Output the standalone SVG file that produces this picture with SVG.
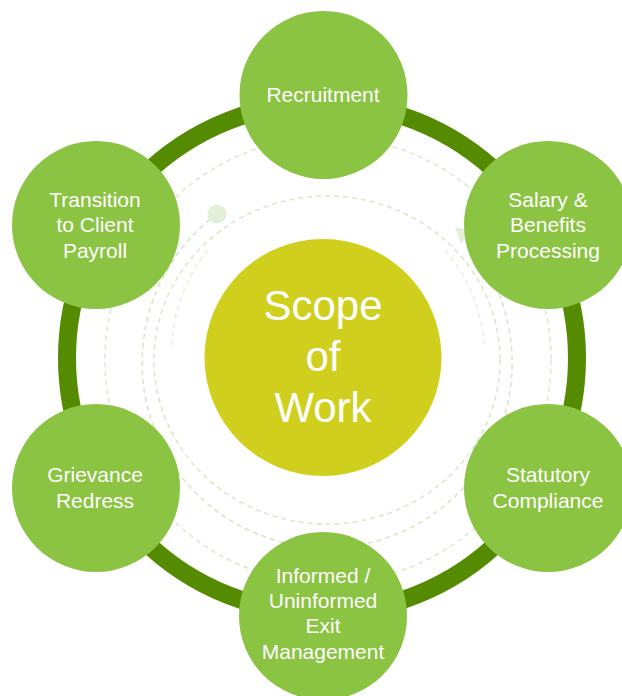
<svg xmlns="http://www.w3.org/2000/svg" width="622" height="696" viewBox="0 0 622 696">
<style>
.sat{fill:#8BC342}
.lbl{font-family:"Liberation Sans",Arial,sans-serif;font-size:21px;fill:#ffffff;text-anchor:middle}
.big{font-family:"Liberation Sans",Arial,sans-serif;font-size:42px;fill:#ffffff;text-anchor:middle}
.dash{fill:none;stroke-dasharray:5 4;stroke-width:1.6}
</style>
<rect width="622" height="696" fill="#ffffff"/>
<g id="decor">
<circle class="dash" cx="328" cy="360" r="223" stroke="#dcebcf"/>
<ellipse class="dash" cx="327" cy="360" rx="173" ry="164" stroke="#d8eac8"/>
<path class="dash" d="M217 214 A185 185 0 1 0 461 235" stroke="#d5e8c3"/>
<path class="dash" d="M208 250 A160 160 0 0 0 172 345" stroke="#e8f2df"/>
<path class="dash" d="M445 250 A160 160 0 0 1 484 345" stroke="#e8f2df"/>
<circle cx="217" cy="214" r="9.5" fill="#e3f0d7"/>
<polygon points="455,227 471,231 461,244" fill="#e3f0d7"/>
</g>
<g id="connectors">
<circle cx="322" cy="358" r="255" fill="none" stroke="#558B00" stroke-width="18"/>
</g>
<g id="center">
<circle cx="323" cy="357.5" r="118.5" fill="#D0CF1D"/>
<text class="big" x="323" y="320">Scope</text>
<text class="big" x="323" y="371">of</text>
<text class="big" x="323" y="422">Work</text>
</g>
<g id="recruitment">
<circle class="sat" cx="323.5" cy="95" r="84"/>
<text class="lbl" x="323" y="102">Recruitment</text>
</g>
<g id="salary">
<circle class="sat" cx="548" cy="225" r="84"/>
<text class="lbl" x="548" y="206.5">Salary &amp;</text>
<text class="lbl" x="548" y="232">Benefits</text>
<text class="lbl" x="548" y="258">Processing</text>
</g>
<g id="statutory">
<circle class="sat" cx="548" cy="488" r="84"/>
<text class="lbl" x="548" y="482">Statutory</text>
<text class="lbl" x="548" y="508">Compliance</text>
</g>
<g id="exit">
<circle class="sat" cx="323" cy="616" r="84"/>
<text class="lbl" x="323" y="583">Informed /</text>
<text class="lbl" x="323" y="608">Uninformed</text>
<text class="lbl" x="323" y="633">Exit</text>
<text class="lbl" x="323" y="659">Management</text>
</g>
<g id="grievance">
<circle class="sat" cx="96" cy="488" r="84"/>
<text class="lbl" x="95" y="482">Grievance</text>
<text class="lbl" x="95" y="508">Redress</text>
</g>
<g id="transition">
<circle class="sat" cx="96" cy="225" r="84"/>
<text class="lbl" x="95" y="206.5">Transition</text>
<text class="lbl" x="95" y="232">to Client</text>
<text class="lbl" x="95" y="258">Payroll</text>
</g>
</svg>
